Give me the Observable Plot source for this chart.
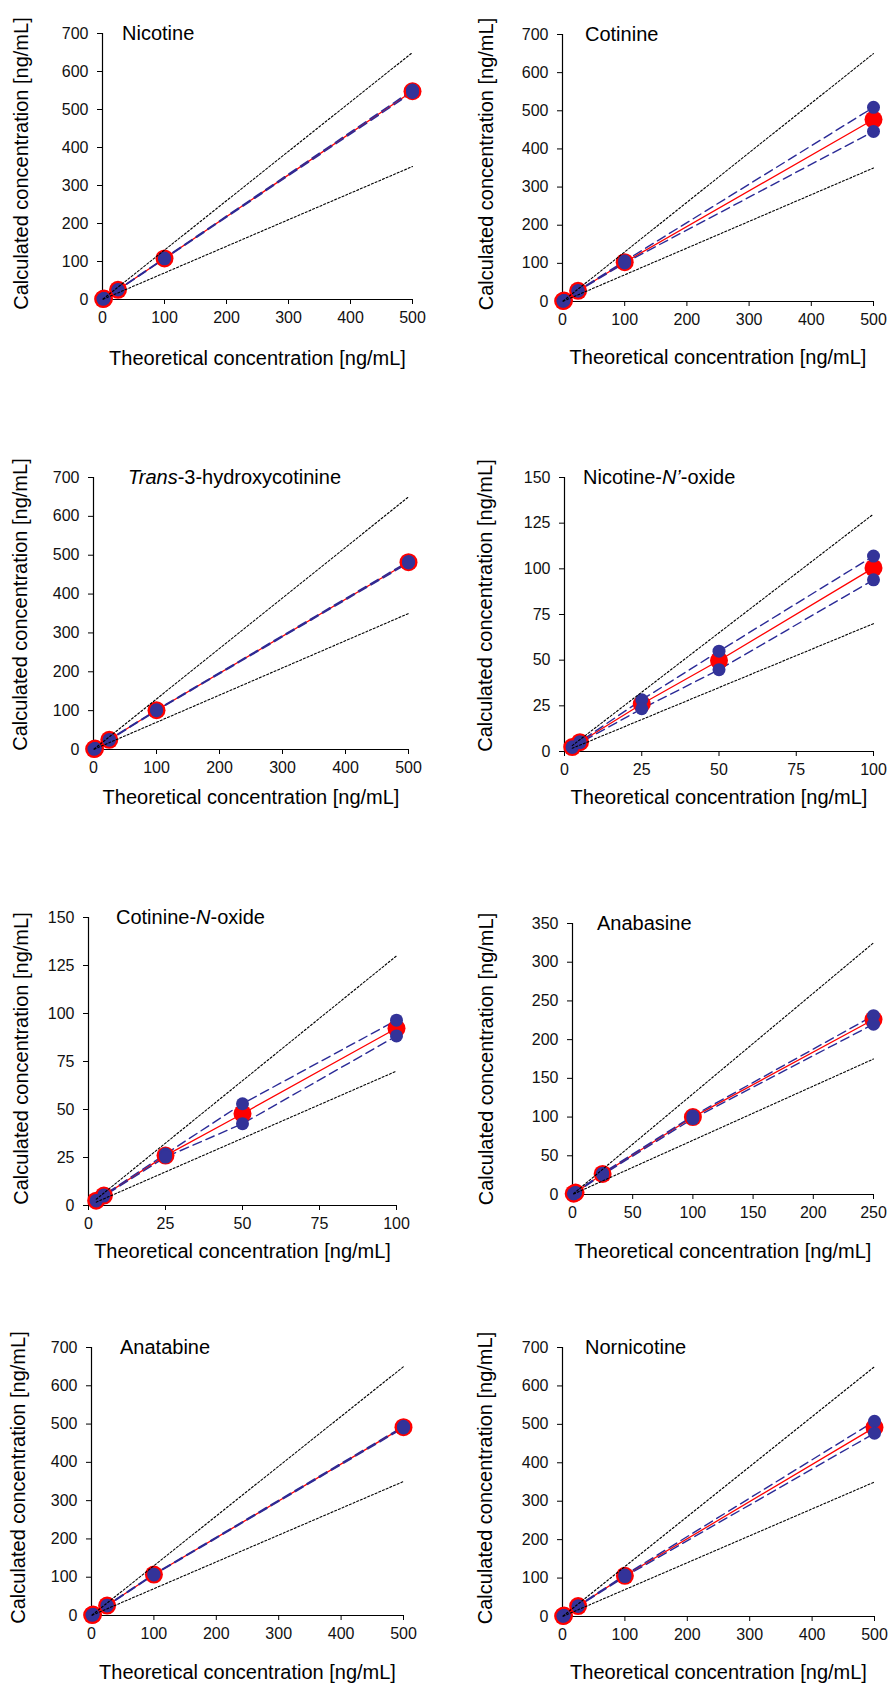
<!DOCTYPE html>
<html>
<head>
<meta charset="utf-8">
<script src="https://cdn.jsdelivr.net/npm/d3@7"></script>
<script src="https://cdn.jsdelivr.net/npm/@observablehq/plot@0.6"></script>
<style>
  html, body { margin: 0; padding: 0; background: #fff; }
  #page { position: relative; width: 891px; height: 1686px; background: #fff; overflow: hidden; }
  #page > div { position: absolute; }
  svg { overflow: visible; }
</style>
</head>
<body>
<div id="page"></div>
<script>
// ---------------- DATA ----------------
const conc500 = [1, 2.5, 25, 100, 500];
const conc100 = [2.5, 5, 25, 50, 100];
const conc250 = [1, 2.5, 25, 100, 250];

const nicotineMean  = [1, 2.5, 25.5, 108, 548];
const nicotineUpper = [1, 2.6, 26, 109, 551];
const nicotineLower = [1, 2.4, 25, 107, 545];

const cotinineMean  = [1, 2.5, 28, 103, 477];
const cotinineUpper = [1.1, 2.7, 29, 106, 509];
const cotinineLower = [0.9, 2.3, 27, 101, 446];

const hydroxyMean  = [1, 2.5, 25, 101, 482];
const hydroxyUpper = [1, 2.6, 26, 102, 484];
const hydroxyLower = [1, 2.4, 24, 100, 480];

const nicNoxMean  = [2.4, 5.1, 26, 49.8, 100.5];
const nicNoxUpper = [2.6, 5.4, 28.3, 54.9, 107];
const nicNoxLower = [2.2, 4.8, 23.4, 44.8, 94];

const cotNoxMean  = [2.5, 5.2, 26, 47.8, 92.3];
const cotNoxUpper = [2.6, 5.5, 26.8, 53, 96.5];
const cotNoxLower = [2.4, 4.9, 25.2, 42.6, 88.3];

const anabasineMean  = [1, 2.5, 26.5, 100, 226];
const anabasineUpper = [1.1, 2.7, 27.5, 101.5, 231];
const anabasineLower = [0.9, 2.3, 25.5, 98, 220];

const anatabineMean  = [1, 2.5, 26, 107, 492];
const anatabineUpper = [1, 2.6, 27, 108, 494];
const anatabineLower = [1, 2.4, 25, 106, 490];

const nornicotineMean  = [1, 2.5, 27, 106, 492];
const nornicotineUpper = [1.1, 2.7, 28, 108, 508];
const nornicotineLower = [0.9, 2.3, 26, 104, 477];

// acceptance limits (+/-30 %)
const limitX500 = [1, 500],  limitHi500 = [1.3, 650],  limitLo500 = [0.7, 350];
const limitX100 = [2.5, 100], limitHi100 = [3.25, 130], limitLo100 = [1.75, 70];
const limitX250 = [1, 250],  limitHi250 = [1.3, 325],  limitLo250 = [0.7, 175];

// tick labels
const ticks500 = [0, 100, 200, 300, 400, 500];
const ticks100 = [0, 25, 50, 75, 100];
const ticks250 = [0, 50, 100, 150, 200, 250];
const ticksY700 = [0, 100, 200, 300, 400, 500, 600, 700];
const ticksY150 = [0, 25, 50, 75, 100, 125, 150];
const ticksY350 = [0, 50, 100, 150, 200, 250, 300, 350];

const xLabel = "Theoretical concentration [ng/mL]";
const yLabel = "Calculated concentration [ng/mL]";

// titles (segments: [text, italic])
const titleNicotine = [["Nicotine", false]];
const titleCotinine = [["Cotinine", false]];
const titleHydroxy = [["Trans", true], ["-3-hydroxycotinine", false]];
const titleNicNox = [["Nicotine-", false], ["N\u2019", true], ["-oxide", false]];
const titleCotNox = [["Cotinine-", false], ["N", true], ["-oxide", false]];
const titleAnabasine = [["Anabasine", false]];
const titleAnatabine = [["Anatabine", false]];
const titleNornicotine = [["Nornicotine", false]];

// ---------------- PANELS ----------------
const panels = [
  {title: titleNicotine, x: conc500, mean: nicotineMean, up: nicotineUpper, lo: nicotineLower,
   lx: limitX500, lhi: limitHi500, llo: limitLo500, xt: ticks500, yt: ticksY700,
   box: [0, 0, 445, 380], m: [33, 33, 81, 102], xtDy: 59, ytDx: -81, ytDy: -3, tDx: 20},
  {title: titleCotinine, x: conc500, mean: cotinineMean, up: cotinineUpper, lo: cotinineLower,
   lx: limitX500, lhi: limitHi500, llo: limitLo500, xt: ticks500, yt: ticksY700,
   box: [445, 0, 446, 380], m: [34, 18, 79, 117], xtDy: 56, ytDx: -76, ytDy: -4, tDx: 23},
  {title: titleHydroxy, x: conc500, mean: hydroxyMean, up: hydroxyUpper, lo: hydroxyLower,
   lx: limitX500, lhi: limitHi500, llo: limitLo500, xt: ticks500, yt: ticksY700,
   box: [0, 380, 445, 440], m: [97, 37, 71, 93], xtDy: 48, ytDx: -73, ytDy: -9, tDx: 35},
  {title: titleNicNox, x: conc100, mean: nicNoxMean, up: nicNoxUpper, lo: nicNoxLower,
   lx: limitX100, lhi: limitHi100, llo: limitLo100, xt: ticks100, yt: ticksY150,
   box: [445, 380, 446, 440], m: [97, 18, 69, 119], xtDy: 46, ytDx: -79, ytDy: -9, tDx: 19},
  {title: titleCotNox, x: conc100, mean: cotNoxMean, up: cotNoxUpper, lo: cotNoxLower,
   lx: limitX100, lhi: limitHi100, llo: limitLo100, xt: ticks100, yt: ticksY150,
   box: [0, 820, 445, 420], m: [97, 49, 35, 88], xtDy: 46, ytDx: -67, ytDy: -3, tDx: 28},
  {title: titleAnabasine, x: conc250, mean: anabasineMean, up: anabasineUpper, lo: anabasineLower,
   lx: limitX250, lhi: limitHi250, llo: limitLo250, xt: ticks250, yt: ticksY350,
   box: [445, 820, 446, 420], m: [103, 18, 46, 127], xtDy: 57, ytDx: -86, ytDy: 0, tDx: 25},
  {title: titleAnatabine, x: conc500, mean: anatabineMean, up: anatabineUpper, lo: anatabineLower,
   lx: limitX500, lhi: limitHi500, llo: limitLo500, xt: ticks500, yt: ticksY700,
   box: [0, 1240, 445, 446], m: [107, 42, 71, 91], xtDy: 57, ytDx: -73, ytDy: -4, tDx: 29},
  {title: titleNornicotine, x: conc500, mean: nornicotineMean, up: nornicotineUpper, lo: nornicotineLower,
   lx: limitX500, lhi: limitHi500, llo: limitLo500, xt: ticks500, yt: ticksY700,
   box: [445, 1240, 446, 446], m: [107, 17, 70, 117], xtDy: 56, ytDx: -77, ytDy: -4, tDx: 23}
];

const FONT = "'Liberation Sans', Arial, Helvetica, sans-serif";
const RED = "#ff0000", BLUE = "#333399", BLUE_LINE = "#2a2a96";
const page = document.getElementById("page");

for (const p of panels) {
  const rows = p.x.map((x, i) => ({x, mean: p.mean[i], up: p.up[i], lo: p.lo[i]}));
  const lim = p.lx.map((x, i) => ({x, hi: p.lhi[i], lo: p.llo[i]}));
  const [bx, by, bw, bh] = p.box;
  const [mt, mr, mb, ml] = p.m;
  const svg = Plot.plot({
    width: bw, height: bh,
    marginTop: mt, marginRight: mr, marginBottom: mb, marginLeft: ml,
    x: {domain: [0, p.xt[p.xt.length - 1]]},
    y: {domain: [0, p.yt[p.yt.length - 1]]},
    style: {fontFamily: FONT, fontSize: "16px", color: "#111", background: "transparent", overflow: "visible"},
    marks: [
      Plot.axisX({ticks: p.xt, tickSize: 5, tickPadding: 7, fontSize: 16, label: null, stroke: "#000", strokeOpacity: 1}),
      Plot.axisY({ticks: p.yt, tickSize: 5, tickPadding: 9, fontSize: 16, label: null, stroke: "#000", strokeOpacity: 1}),
      Plot.ruleX([0], {stroke: "#000", strokeWidth: 1.2}),
      Plot.ruleY([0], {stroke: "#000", strokeWidth: 1.2}),
      Plot.line(rows, {x: "x", y: "mean", stroke: RED, strokeWidth: 1.3}),
      Plot.line(rows, {x: "x", y: "up", stroke: BLUE_LINE, strokeWidth: 1.4, strokeDasharray: "9,5"}),
      Plot.line(rows, {x: "x", y: "lo", stroke: BLUE_LINE, strokeWidth: 1.4, strokeDasharray: "9,5"}),
      Plot.dot(rows, {x: "x", y: "mean", r: 9, fill: RED}),
      Plot.dot(rows, {x: "x", y: "up", r: 6.5, fill: BLUE}),
      Plot.dot(rows, {x: "x", y: "lo", r: 6.5, fill: BLUE}),
      Plot.line(lim, {x: "x", y: "hi", stroke: "#000", strokeWidth: 1.1, strokeDasharray: "2,2"}),
      Plot.line(lim, {x: "x", y: "lo", stroke: "#000", strokeWidth: 1.1, strokeDasharray: "2,2"}),
      Plot.text([xLabel], {text: d => d, frameAnchor: "bottom", dy: p.xtDy, lineAnchor: "middle", textAnchor: "middle", fontSize: 20, fill: "#000"}),
      Plot.text([yLabel], {text: d => d, frameAnchor: "left", dx: p.ytDx, dy: p.ytDy, rotate: -90, lineAnchor: "middle", textAnchor: "middle", fontSize: 20, fill: "#000"})
    ]
  });
  // panel title with italic segments
  const t = d3.select(svg).append("text")
    .attr("x", ml + p.tDx)
    .attr("y", mt + 7)
    .attr("text-anchor", "start")
    .attr("font-family", FONT)
    .attr("font-size", 20)
    .attr("fill", "#000");
  for (const [s, it] of p.title) {
    t.append("tspan").attr("font-style", it ? "italic" : "normal").text(s);
  }
  const holder = document.createElement("div");
  holder.style.left = bx + "px";
  holder.style.top = by + "px";
  holder.style.width = bw + "px";
  holder.style.height = bh + "px";
  holder.appendChild(svg);
  page.appendChild(holder);
}
</script>
</body>
</html>
